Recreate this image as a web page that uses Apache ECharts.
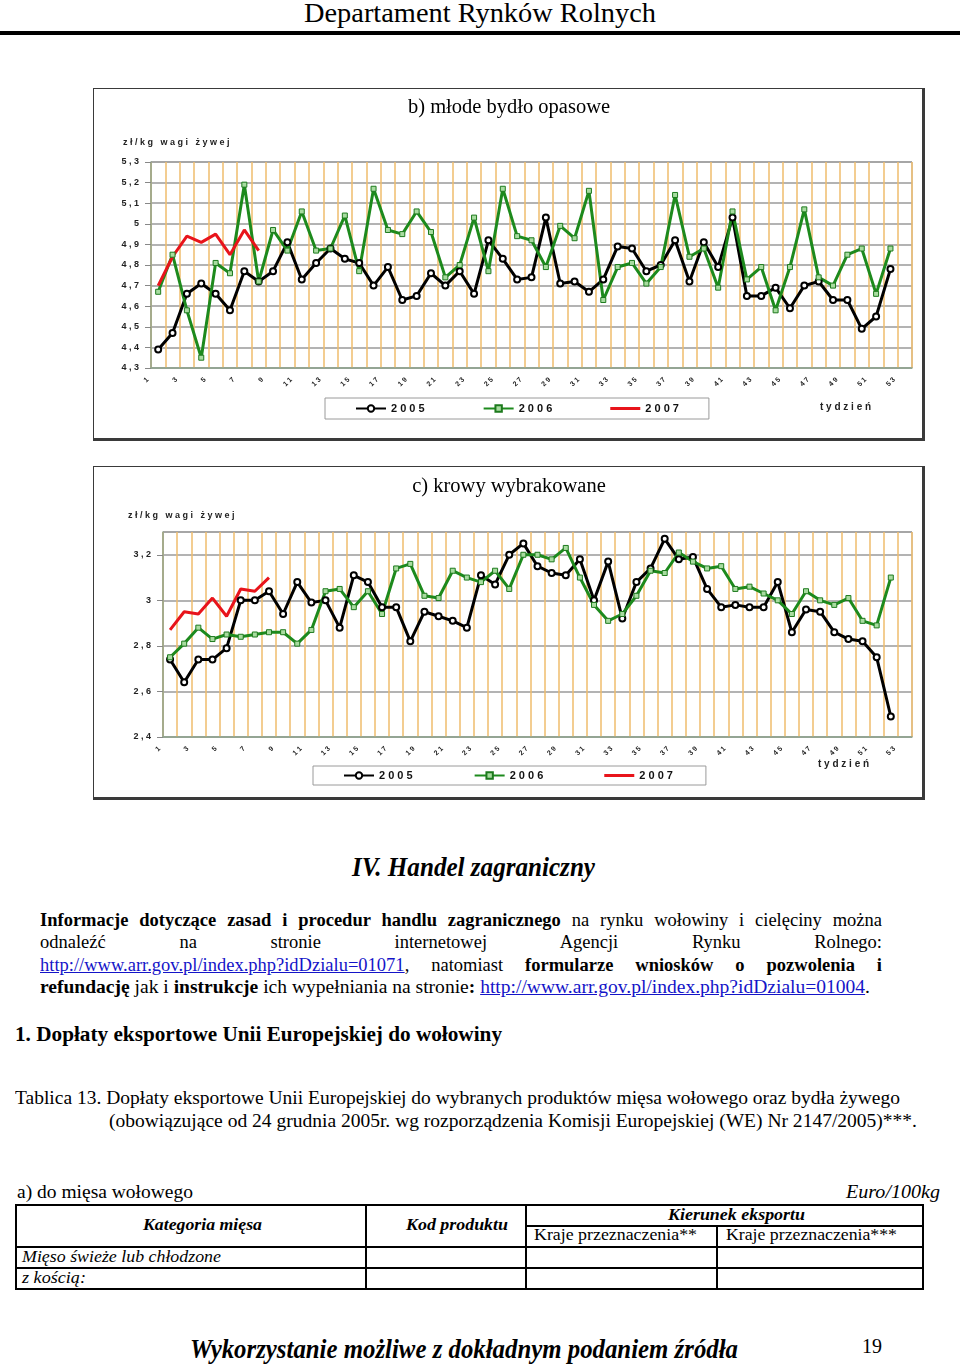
<!DOCTYPE html>
<html><head><meta charset="utf-8">
<script src="https://cdn.jsdelivr.net/npm/echarts@6/dist/echarts.min.js"></script>
<style>
html,body{margin:0;padding:0;background:#fff;}
body{width:960px;height:1365px;position:relative;overflow:hidden;font-family:'Liberation Serif','Times New Roman',serif;color:#000;}
.t{position:absolute;white-space:nowrap;transform-origin:0 50%;}
.box{position:absolute;box-sizing:border-box;border-left:1.5px solid #3a3a3a;border-top:1.5px solid #3a3a3a;border-right:3px solid #3a3a3a;border-bottom:3px solid #3a3a3a;pointer-events:none;}
.chart{position:absolute;}
a{color:#1414c8;text-decoration:underline;}
.ln{position:absolute;background:#000;}
.b{font-weight:bold;}
.i{font-style:italic;}
</style></head>
<body>
<div class="t" data-x="304" data-r="656" data-cy="14" data-f="28">Departament Rynków Rolnych</div>
<div class="ln" style="left:0;top:31px;width:960px;height:3.5px"></div>

<div id="chartB" class="chart" style="left:94px;top:89px;width:830px;height:351px"></div>
<div class="box" style="left:93px;top:88px;width:832px;height:353px"></div>

<div id="chartC" class="chart" style="left:94px;top:467px;width:830px;height:332px"></div>
<div class="box" style="left:93px;top:466px;width:832px;height:334px"></div>

<div class="t b i" data-x="352" data-r="595" data-cy="868" data-f="28">IV. Handel zagraniczny</div>

<div class="t" data-j="1" data-x="40" data-r="882" data-cy="921" data-f="18.5"><span class="b">Informacje dotyczące zasad i procedur handlu zagranicznego</span> na rynku wołowiny i cielęciny można</div>
<div class="t" data-j="1" data-x="40" data-r="882" data-cy="943" data-f="18.5">odnaleźć na stronie internetowej Agencji Rynku Rolnego:</div>
<div class="t" data-j="1" data-x="40" data-r="882" data-cy="966" data-f="18.5"><a>http://www.arr.gov.pl/index.php?idDzialu=01071</a>, natomiast <span class="b">formularze wniosków o pozwolenia i</span></div>
<div class="t" data-x="40" data-r="870" data-cy="988" data-f="18.5"><span class="b">refundację</span> jak i <span class="b">instrukcje</span> ich wypełniania na stronie<span class="b">:</span> <a>http://www.arr.gov.pl/index.php?idDzialu=01004</a>.</div>

<div class="t b" data-x="15" data-r="502" data-cy="1035" data-f="20">1. Dopłaty eksportowe Unii Europejskiej do wołowiny</div>

<div class="t" data-x="15" data-r="900" data-cy="1098" data-f="19">Tablica 13. Dopłaty eksportowe Unii Europejskiej do wybranych produktów mięsa wołowego oraz bydła żywego</div>
<div class="t" data-x="109" data-r="917" data-cy="1121" data-f="19">(obowiązujące od 24 grudnia 2005r. wg rozporządzenia Komisji Europejskiej (WE) Nr 2147/2005)***.</div>

<div class="t" data-x="17" data-r="193" data-cy="1192" data-f="19">a) do mięsa wołowego</div>
<div class="t i" data-x="846" data-r="940" data-cy="1192" data-f="19">Euro/100kg</div>

<div class="ln" style="left:15px;top:1204px;width:908px;height:1.5px"></div>
<div class="ln" style="left:15px;top:1288px;width:909px;height:1.5px"></div>
<div class="ln" style="left:15px;top:1204px;width:1.5px;height:85px"></div>
<div class="ln" style="left:922px;top:1204px;width:1.5px;height:85px"></div>
<div class="ln" style="left:365px;top:1204px;width:1.5px;height:85px"></div>
<div class="ln" style="left:525px;top:1204px;width:1.5px;height:85px"></div>
<div class="ln" style="left:716px;top:1225px;width:1.5px;height:64px"></div>
<div class="ln" style="left:525px;top:1225px;width:398px;height:2px"></div>
<div class="ln" style="left:15px;top:1246px;width:908px;height:1.5px"></div>
<div class="ln" style="left:15px;top:1267px;width:908px;height:1.5px"></div>

<div class="t b i" data-x="143" data-r="262" data-cy="1225" data-f="17">Kategoria mięsa</div>
<div class="t b i" data-x="406" data-r="508" data-cy="1225" data-f="17">Kod produktu</div>
<div class="t b i" data-x="668" data-r="805" data-cy="1215" data-f="17">Kierunek eksportu</div>
<div class="t" data-x="534" data-r="697" data-cy="1235" data-f="17">Kraje przeznaczenia**</div>
<div class="t" data-x="726" data-r="897" data-cy="1235" data-f="17">Kraje przeznaczenia***</div>
<div class="t i" data-x="22" data-r="221" data-cy="1257" data-f="17">Mięso świeże lub chłodzone</div>
<div class="t i" data-x="22" data-r="86" data-cy="1278" data-f="17">z kością:</div>

<div class="t b i" data-x="190" data-r="738" data-cy="1350" data-f="27">Wykorzystanie możliwe z dokładnym podaniem źródła</div>
<div class="t" data-x="862" data-r="882" data-cy="1347" data-f="20">19</div>

<script>
// ---- data ----
const weeks = ['1','2','3','4','5','6','7','8','9','10','11','12','13','14','15','16','17','18','19','20',
  '21','22','23','24','25','26','27','28','29','30','31','32','33','34','35','36','37','38','39','40',
  '41','42','43','44','45','46','47','48','49','50','51','52','53'];
const seriesNames = ['2005','2006','2007'];

// b) młode bydło opasowe (zł/kg wagi żywej)
const bydlo2005 = [4.39,4.47,4.66,4.71,4.66,4.58,4.77,4.72,4.77,4.91,4.73,4.81,4.88,4.83,4.81,4.70,4.79,4.63,4.65,4.76,
  4.70,4.77,4.66,4.92,4.83,4.73,4.74,5.03,4.71,4.72,4.67,4.73,4.89,4.88,4.77,4.80,4.92,4.72,4.91,4.79,
  5.03,4.65,4.65,4.69,4.59,4.70,4.72,4.63,4.63,4.49,4.55,4.78];
const bydlo2006 = [4.67,4.85,4.58,4.35,4.81,4.76,5.19,4.72,4.97,4.87,5.06,4.87,4.88,5.04,4.77,5.17,4.97,4.95,5.06,4.96,
  4.74,4.80,5.03,4.77,5.17,4.94,4.92,4.79,4.99,4.93,5.16,4.63,4.79,4.81,4.71,4.79,5.14,4.84,4.88,4.69,
  5.06,4.73,4.79,4.58,4.79,5.07,4.74,4.70,4.85,4.88,4.66,4.88];
const bydlo2007 = [4.70,4.84,4.94,4.91,4.95,4.85,4.97,4.87];

// c) krowy wybrakowane (zł/kg wagi żywej)
const krowy2005 = [2.74,2.64,2.74,2.74,2.79,3.00,3.00,3.04,2.94,3.08,2.99,3.00,2.88,3.11,3.08,2.97,2.97,2.82,2.95,2.93,
  2.91,2.88,3.11,3.07,3.20,3.25,3.15,3.12,3.11,3.18,3.00,3.17,2.92,3.08,3.14,3.27,3.18,3.19,3.05,2.97,
  2.98,2.97,2.97,3.08,2.86,2.96,2.95,2.86,2.83,2.82,2.75,2.49];
const krowy2006 = [2.75,2.81,2.88,2.83,2.85,2.84,2.85,2.86,2.86,2.81,2.87,3.04,3.05,2.97,3.04,2.94,3.14,3.16,3.02,3.01,
  3.13,3.10,3.08,3.13,3.05,3.20,3.20,3.18,3.23,3.10,2.98,2.91,2.94,3.02,3.13,3.12,3.21,3.17,3.14,3.15,
  3.05,3.06,3.03,3.00,2.94,3.04,3.00,2.98,3.01,2.91,2.89,3.10];
const krowy2007 = [2.87,2.95,2.94,3.01,2.93,3.05,3.04,3.10];

const yName = 'z ł / k g   w a g i   ż y w e j';
const xName = 't y d z i e ń';

// ---- text layout ----
function layoutText(){
  document.querySelectorAll('.t').forEach(el=>{
    const f=+el.dataset.f, x=+el.dataset.x, r=+el.dataset.r, cy=+el.dataset.cy;
    el.style.fontSize=f+'px'; el.style.lineHeight=(f*1.15)+'px';
    el.style.left=x+'px'; el.style.top=(cy-0.6*f)+'px';
    const nat=el.getBoundingClientRect().width, target=r-x;
    if(el.dataset.j==='1' && nat<target){
      el.style.width=target+'px'; el.style.whiteSpace='normal';
      el.style.textAlign='justify'; el.style.textAlignLast='justify';
    } else {
      el.style.transform='scaleX('+(target/nat)+')';
    }
  });
}
layoutText();

// ---- charts ----
const spaced = s => String(s).split('').join(' ');
const fmtY = v => spaced((Math.round(v*10)/10).toString().replace('.', ','));
// plain line icon (no marker) for the 2007 legend entry
const plainLineIcon = 'path://M0,0L0.01,0L0.01,0.01Z M0,2.6L30,2.6L30,5.4L0,5.4Z M0,8L0.01,8L0.01,7.99Z';

function makeOption(o){
  const axisGreen = '#8fa58f';
  return {
    animation:false,
    textStyle:{fontFamily:'Liberation Sans'},
    title:{text:o.title, left:'center', top:o.titleTop, padding:0,
      textStyle:{fontFamily:'Liberation Serif', fontSize:20.5, fontWeight:'normal', color:'#000'}},
    grid:{left:o.grid[0], top:o.grid[1], width:o.grid[2], height:o.grid[3], show:true, borderColor:'#9a9a9a', borderWidth:1},
    legend:{data:[seriesNames[0], seriesNames[1], {name:seriesNames[2], icon:plainLineIcon}],
      left:o.legend[0], top:o.legend[1], itemWidth:30, itemHeight:8, itemGap:o.legend[2],
      padding:o.legend[3], borderColor:'#9a9a9a', borderWidth:1,
      formatter:n=>spaced(n),
      textStyle:{fontFamily:'Liberation Sans', fontSize:11, fontWeight:'bold', color:'#111'}},
    xAxis:{type:'category', data:weeks, boundaryGap:true,
      axisLine:{lineStyle:{color:axisGreen, width:1.5}},
      axisTick:{show:false},
      axisLabel:{interval:1, rotate:45, margin:0, padding:[0,15,0,0], fontSize:7, fontWeight:'bold', color:'#222',
        fontFamily:'Liberation Sans', formatter:v=>spaced(v)},
      splitLine:{show:true, interval:0, lineStyle:{color:'#efbd6c', width:1.5}}},
    yAxis:{type:'value', min:o.y[0], max:o.y[1], interval:o.y[2],
      axisLine:{show:true, lineStyle:{color:axisGreen, width:1.5}},
      axisTick:{show:true, length:6, lineStyle:{color:'#888'}},
      splitLine:{lineStyle:{color:'#9a9a9a', width:1.5}},
      axisLabel:{margin:12, fontSize:9, fontWeight:'bold', color:'#222', fontFamily:'Liberation Sans',
        formatter:fmtY, showMaxLabel:o.showMax}},
    graphic:[
      {type:'text', left:o.yname[0], top:o.yname[1], style:{text:yName, font:'bold 9px "Liberation Sans"', fill:'#222'}},
      {type:'text', left:o.xname[0], top:o.xname[1], style:{text:xName, font:'bold 10px "Liberation Sans"', fill:'#222'}}
    ],
    series:[
      {name:'2005', type:'line', data:o.d[0], symbol:'emptyCircle', symbolSize:6,
        lineStyle:{color:'#000', width:3}, itemStyle:{color:'#000', borderWidth:1}},
      {name:'2006', type:'line', data:o.d[1], symbol:'rect', symbolSize:5,
        lineStyle:{color:'#1d8a1d', width:3}, itemStyle:{color:'#a8dca0', borderColor:'#1d7a1d', borderWidth:1}},
      {name:'2007', type:'line', data:o.d[2], symbol:'none', showSymbol:false,
        lineStyle:{color:'#e8141b', width:3}, itemStyle:{color:'#e8141b'}}
    ]
  };
}

const chB = echarts.init(document.getElementById('chartB'), null, {renderer:'canvas'});
chB.setOption(makeOption({
  title:'b) młode bydło opasowe', titleTop:8,
  grid:[57,73,761,206],
  legend:[231,309,58,[5,30,5,30]],
  y:[4.3,5.3,0.1], showMax:true,
  yname:[29,49], xname:[726,313],
  d:[bydlo2005,bydlo2006,bydlo2007]
}));

const chC = echarts.init(document.getElementById('chartC'), null, {renderer:'canvas'});
chC.setOption(makeOption({
  title:'c) krowy wybrakowane', titleTop:9,
  grid:[69,65,749,205],
  legend:[219,299,61,[4,33,4,30]],
  y:[2.4,3.3,0.2], showMax:false,
  yname:[34,44], xname:[724,292],
  d:[krowy2005,krowy2006,krowy2007]
}));
</script>
</body></html>
